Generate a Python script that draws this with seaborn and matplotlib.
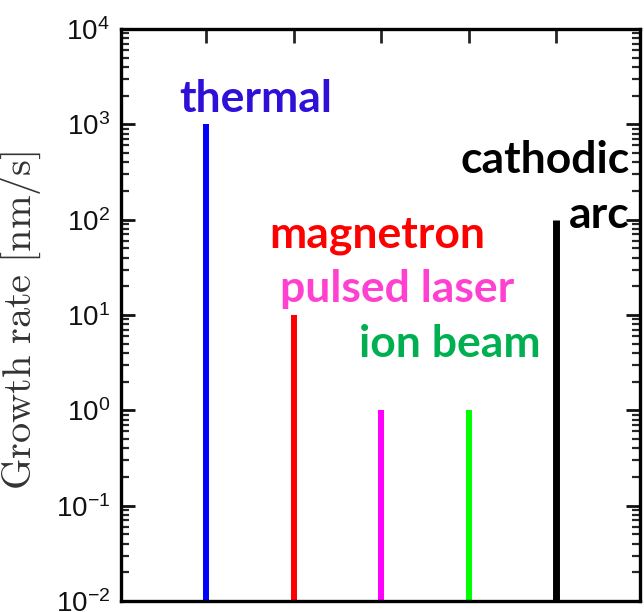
import matplotlib
matplotlib.use("Agg")
import matplotlib.pyplot as plt
import seaborn as sns
import numpy as np
from matplotlib.ticker import LogLocator, NullFormatter

methods = ["thermal", "magnetron", "pulsed laser", "ion beam", "cathodic arc"]
rates = [1e3, 1e1, 1e0, 1e0, 1e2]
line_colors = ["#0000ff", "#ff0000", "#ff00ff", "#00ff00", "#000000"]
label_colors = ["#2e10d8", "#ff0000", "#ff40d0", "#00b050", "#000000"]
line_widths = [4.3, 4.3, 4.3, 4.3, 5.0]

sns.set_style("ticks")
plt.rcParams["font.family"] = ["Liberation Sans", "DejaVu Sans"]
plt.rcParams["mathtext.fontset"] = "cm"

fig = plt.figure(figsize=(6.44, 6.12), dpi=100)
ax = fig.add_axes([121/644, 1-601/612, (640-121)/644, (601-29)/612])

xpos = np.arange(len(methods))
ax.set_yscale("log")
ax.set_ylim(1e-2, 1e4)
ax.vlines(xpos, 1e-2, rates, colors=line_colors, linewidths=line_widths)
ax.set_xlim(-0.977, 4.956)
ax.set_xticks(xpos)
ax.yaxis.set_major_locator(LogLocator(base=10, numticks=10))
ax.yaxis.set_minor_locator(LogLocator(base=10, subs=np.arange(2, 10), numticks=100))
ax.yaxis.set_minor_formatter(NullFormatter())

ax.tick_params(axis="y", which="major", direction="in", length=10, width=2,
               left=True, right=True, labelsize=20, pad=8, colors="#111111")
ax.tick_params(axis="y", which="minor", direction="in", length=6, width=1.6,
               left=True, right=True)
ax.tick_params(axis="x", which="major", direction="in", length=10, width=2,
               top=True, bottom=True, labelbottom=False, labeltop=False)
for s in ax.spines.values():
    s.set_linewidth(2.4)
    s.set_color("black")
    s.set_visible(True)

ax.set_ylabel(r"$\mathrm{Growth\ rate\ [nm/s]}$", fontsize=29, color="#333333")
ax.yaxis.set_label_coords(-0.150, 0.49)

tf = ["Lato", "DejaVu Sans"]
kw = dict(fontsize=32, fontweight="bold", va="baseline", family=tf)
ax.text(0.566, 1346, "thermal", color=label_colors[0], ha="center", **kw)
ax.text(1.95, 50.5, "magnetron", color=label_colors[1], ha="center", **kw)
ax.text(2.18, 13.7, "pulsed laser", color=label_colors[2], ha="center", **kw)
ax.text(2.78, 3.62, "ion beam", color=label_colors[3], ha="center", **kw)
ax.text(4.84, 308, "cathodic", color=label_colors[4], ha="right", **kw)
ax.text(4.84, 81.7, "arc", color=label_colors[4], ha="right", **kw)

fig.savefig("out.png", dpi=100)
